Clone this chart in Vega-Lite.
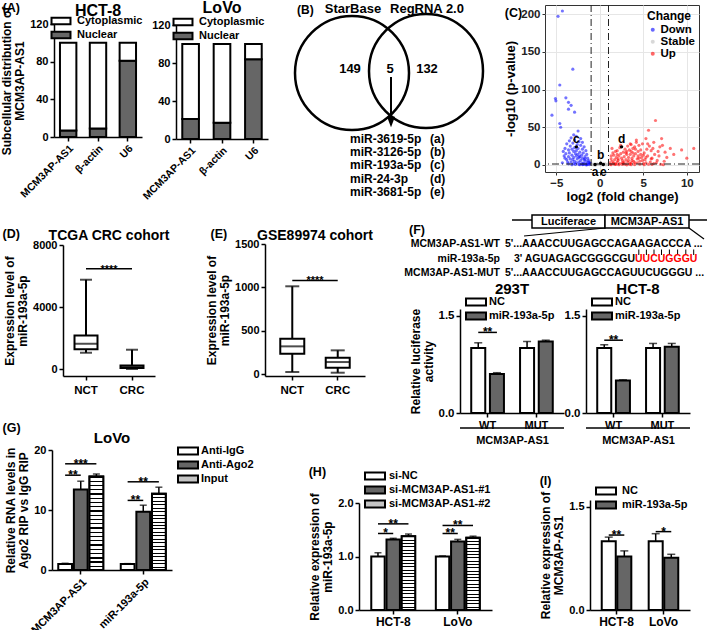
{
"$schema": "https://vega.github.io/schema/vega-lite/v6.json",
"background": "white",
"padding": 0,
"config": {
 "font": "Liberation Sans",
 "view": {"stroke": null},
 "axis": {"labelFont": "Liberation Sans", "labelFontWeight": "bold", "labelFontSize": 11, "labelColor": "black", "titleFont": "Liberation Sans", "titleFontWeight": "bold", "titleFontSize": 12, "titleColor": "black", "titleLineHeight": 13, "domainColor": "black", "domainWidth": 1.5, "tickColor": "black", "tickWidth": 1.5, "tickSize": 4, "grid": false, "labelPadding": 2, "titlePadding": 3},
 "title": {"font": "Liberation Sans", "fontWeight": "bold", "fontSize": 15, "color": "black"},
 "legend": {"labelFont": "Liberation Sans", "titleFont": "Liberation Sans", "labelColor": "black", "titleColor": "black"},
 "text": {"font": "Liberation Sans", "fontWeight": "bold", "color": "black"}
},
"datasets": {
 "volc": [
  {"x":-4.8,"y":197,"g":"Down"},{"x":-4.3,"y":204,"g":"Down"},{"x":-3.1,"y":127,"g":"Down"},{"x":-4.6,"y":106,"g":"Down"},{"x":-5.1,"y":88,"g":"Down"},{"x":-5.05,"y":85,"g":"Down"},{"x":-3.9,"y":89,"g":"Down"},{"x":-3.6,"y":83,"g":"Down"},{"x":-3.3,"y":79,"g":"Down"},{"x":-3.6,"y":74,"g":"Down"},{"x":-2.9,"y":70,"g":"Down"},{"x":-5.5,"y":66,"g":"Down"},{"x":-4.6,"y":55,"g":"Down"},{"x":-4.5,"y":50,"g":"Down"},
  {"x":-2.5,"y":45,"g":"Down"},{"x":-3.0,"y":40,"g":"Down"},{"x":-2.7,"y":38,"g":"Down"},{"x":-3.3,"y":36,"g":"Down"},{"x":-2.2,"y":35,"g":"Down"},{"x":-2.9,"y":33,"g":"Down"},{"x":-3.5,"y":32,"g":"Down"},{"x":-2.4,"y":31,"g":"Down"},{"x":-2.0,"y":30,"g":"Down"},{"x":-3.1,"y":29,"g":"Down"},{"x":-3.8,"y":28,"g":"Down"},{"x":-2.6,"y":27,"g":"Down"},{"x":-2.2,"y":26,"g":"Down"},{"x":-3.4,"y":25,"g":"Down"},{"x":-1.8,"y":24,"g":"Down"},{"x":-2.9,"y":23,"g":"Down"},{"x":-4.0,"y":22,"g":"Down"},{"x":-2.5,"y":22,"g":"Down"},{"x":-3.2,"y":21,"g":"Down"},{"x":-2.0,"y":21,"g":"Down"},{"x":-3.6,"y":20,"g":"Down"},{"x":-2.7,"y":19,"g":"Down"},{"x":-1.6,"y":19,"g":"Down"},{"x":-4.2,"y":18,"g":"Down"},{"x":-3.0,"y":18,"g":"Down"},{"x":-2.3,"y":17,"g":"Down"},{"x":-3.5,"y":16,"g":"Down"},{"x":-1.9,"y":16,"g":"Down"},{"x":-2.8,"y":15,"g":"Down"},{"x":-3.9,"y":15,"g":"Down"},{"x":-2.5,"y":14,"g":"Down"},{"x":-1.5,"y":14,"g":"Down"},{"x":-3.2,"y":13,"g":"Down"},{"x":-2.1,"y":13,"g":"Down"},{"x":-4.1,"y":12,"g":"Down"},{"x":-2.7,"y":12,"g":"Down"},{"x":-1.7,"y":11,"g":"Down"},{"x":-3.6,"y":11,"g":"Down"},{"x":-2.4,"y":10,"g":"Down"},{"x":-3.0,"y":10,"g":"Down"},{"x":-1.4,"y":9,"g":"Down"},{"x":-2.0,"y":9,"g":"Down"},{"x":-3.4,"y":8,"g":"Down"},{"x":-2.6,"y":8,"g":"Down"},{"x":-1.8,"y":7,"g":"Down"},{"x":-3.8,"y":7,"g":"Down"},{"x":-2.2,"y":6,"g":"Down"},{"x":-1.3,"y":6,"g":"Down"},{"x":-2.9,"y":5,"g":"Down"},{"x":-1.6,"y":5,"g":"Down"},{"x":-2.4,"y":4,"g":"Down"},{"x":-3.3,"y":4,"g":"Down"},{"x":-1.9,"y":3,"g":"Down"},{"x":-1.2,"y":3,"g":"Down"},{"x":-2.7,"y":3,"g":"Down"},{"x":-1.5,"y":2,"g":"Down"},{"x":-2.1,"y":2,"g":"Down"},{"x":-3.0,"y":2,"g":"Down"},{"x":-1.1,"y":1.5,"g":"Down"},{"x":-1.8,"y":1.5,"g":"Down"},{"x":-2.4,"y":1,"g":"Down"},{"x":-1.4,"y":1,"g":"Down"},{"x":-1.2,"y":0.5,"g":"Down"},{"x":-2.0,"y":0.5,"g":"Down"},{"x":-1.6,"y":0.3,"g":"Down"},{"x":-2.8,"y":0.8,"g":"Down"},{"x":-3.6,"y":1.5,"g":"Down"},{"x":-4.3,"y":3,"g":"Down"},{"x":-4.0,"y":9,"g":"Down"},{"x":-3.7,"y":4,"g":"Down"},{"x":-1.3,"y":4,"g":"Down"},{"x":-1.7,"y":8,"g":"Down"},{"x":-2.3,"y":11,"g":"Down"},{"x":-3.1,"y":7,"g":"Down"},{"x":-1.1,"y":2.5,"g":"Down"},{"x":-1.5,"y":0.2,"g":"Down"},{"x":-2.3,"y":0.3,"g":"Down"},{"x":-3.2,"y":0.4,"g":"Down"},{"x":-1.9,"y":0.6,"g":"Down"},
  {"x":-0.9,"y":0.5,"g":"Stable"},{"x":-0.6,"y":1,"g":"Stable"},{"x":-0.4,"y":0.3,"g":"Stable"},{"x":-0.2,"y":0.8,"g":"Stable"},{"x":0.1,"y":0.4,"g":"Stable"},{"x":0.3,"y":1.2,"g":"Stable"},{"x":0.5,"y":0.6,"g":"Stable"},{"x":0.7,"y":0.2,"g":"Stable"},{"x":0.9,"y":0.9,"g":"Stable"},{"x":-0.7,"y":0.2,"g":"Stable"},{"x":0.2,"y":0.1,"g":"Stable"},{"x":-0.3,"y":1.5,"g":"Stable"},{"x":0.6,"y":1.8,"g":"Stable"},{"x":-0.8,"y":1.1,"g":"Stable"},{"x":0.0,"y":0.7,"g":"Stable"},{"x":-0.5,"y":0.1,"g":"Stable"},{"x":0.8,"y":0.4,"g":"Stable"},
  {"x":6.4,"y":59,"g":"Up"},{"x":5.6,"y":46,"g":"Up"},{"x":10.8,"y":22,"g":"Up"},{"x":10.0,"y":9,"g":"Up"},{"x":9.4,"y":20,"g":"Up"},{"x":8.1,"y":22,"g":"Up"},{"x":7.1,"y":35,"g":"Up"},{"x":7.7,"y":10,"g":"Up"},{"x":6.9,"y":24,"g":"Up"},{"x":7.5,"y":17,"g":"Up"},{"x":8.5,"y":14,"g":"Up"},{"x":6.2,"y":30,"g":"Up"},{"x":5.3,"y":35,"g":"Up"},{"x":4.2,"y":33,"g":"Up"},{"x":3.5,"y":28,"g":"Up"},
  {"x":1.2,"y":1,"g":"Up"},{"x":1.5,"y":2,"g":"Up"},{"x":1.1,"y":3,"g":"Up"},{"x":1.8,"y":1.5,"g":"Up"},{"x":2.0,"y":4,"g":"Up"},{"x":1.4,"y":5,"g":"Up"},{"x":2.3,"y":2,"g":"Up"},{"x":1.7,"y":7,"g":"Up"},{"x":2.6,"y":3,"g":"Up"},{"x":1.3,"y":8,"g":"Up"},{"x":2.1,"y":6,"g":"Up"},{"x":2.9,"y":1,"g":"Up"},{"x":3.2,"y":4,"g":"Up"},{"x":2.5,"y":9,"g":"Up"},{"x":1.9,"y":10,"g":"Up"},{"x":3.0,"y":7,"g":"Up"},{"x":3.5,"y":2,"g":"Up"},{"x":2.2,"y":12,"g":"Up"},{"x":3.7,"y":6,"g":"Up"},{"x":1.6,"y":13,"g":"Up"},{"x":2.8,"y":11,"g":"Up"},{"x":4.0,"y":3,"g":"Up"},{"x":3.3,"y":10,"g":"Up"},{"x":2.4,"y":15,"g":"Up"},{"x":4.3,"y":8,"g":"Up"},{"x":3.9,"y":12,"g":"Up"},{"x":1.5,"y":16,"g":"Up"},{"x":3.1,"y":14,"g":"Up"},{"x":4.6,"y":5,"g":"Up"},{"x":2.7,"y":17,"g":"Up"},{"x":4.1,"y":15,"g":"Up"},{"x":3.6,"y":18,"g":"Up"},{"x":5.0,"y":2,"g":"Up"},{"x":4.8,"y":10,"g":"Up"},{"x":2.0,"y":19,"g":"Up"},{"x":3.4,"y":20,"g":"Up"},{"x":5.2,"y":7,"g":"Up"},{"x":4.4,"y":18,"g":"Up"},{"x":2.9,"y":21,"g":"Up"},{"x":5.5,"y":12,"g":"Up"},{"x":3.8,"y":22,"g":"Up"},{"x":4.7,"y":20,"g":"Up"},{"x":5.8,"y":4,"g":"Up"},{"x":4.0,"y":24,"g":"Up"},{"x":3.2,"y":25,"g":"Up"},{"x":5.1,"y":16,"g":"Up"},{"x":6.0,"y":9,"g":"Up"},{"x":4.5,"y":26,"g":"Up"},{"x":5.4,"y":21,"g":"Up"},{"x":6.3,"y":14,"g":"Up"},{"x":3.6,"y":27,"g":"Up"},{"x":5.7,"y":25,"g":"Up"},{"x":4.9,"y":28,"g":"Up"},{"x":6.6,"y":6,"g":"Up"},{"x":5.9,"y":19,"g":"Up"},{"x":6.8,"y":12,"g":"Up"},{"x":4.2,"y":30,"g":"Up"},{"x":3.0,"y":16,"g":"Up"},{"x":2.3,"y":23,"g":"Up"},{"x":1.8,"y":18,"g":"Up"},{"x":1.3,"y":12,"g":"Up"},{"x":2.6,"y":6,"g":"Up"},{"x":3.4,"y":1,"g":"Up"},{"x":4.6,"y":1,"g":"Up"},{"x":5.6,"y":1,"g":"Up"},{"x":6.2,"y":2,"g":"Up"},{"x":7.0,"y":1,"g":"Up"},{"x":7.4,"y":5,"g":"Up"},{"x":6.5,"y":3,"g":"Up"},{"x":3.9,"y":5,"g":"Up"},{"x":4.4,"y":12,"g":"Up"},{"x":5.3,"y":10,"g":"Up"},{"x":2.1,"y":8,"g":"Up"},{"x":1.6,"y":3,"g":"Up"},{"x":2.8,"y":4,"g":"Up"},{"x":3.5,"y":14,"g":"Up"},{"x":4.9,"y":6,"g":"Up"},{"x":5.9,"y":8,"g":"Up"},{"x":4.1,"y":21,"g":"Up"},{"x":3.1,"y":18,"g":"Up"},{"x":2.4,"y":26,"g":"Up"},{"x":4.7,"y":14,"g":"Up"},{"x":5.5,"y":28,"g":"Up"},{"x":6.1,"y":22,"g":"Up"},{"x":3.7,"y":9,"g":"Up"},{"x":2.0,"y":14,"g":"Up"},{"x":1.4,"y":22,"g":"Up"},{"x":3.3,"y":6,"g":"Up"},{"x":4.3,"y":3,"g":"Up"},{"x":5.0,"y":13,"g":"Up"},{"x":2.7,"y":2,"g":"Up"},{"x":1.9,"y":1,"g":"Up"},{"x":3.8,"y":16,"g":"Up"},{"x":6.7,"y":18,"g":"Up"},{"x":7.2,"y":26,"g":"Up"},{"x":5.3,"y":3,"g":"Up"},{"x":4.5,"y":9,"g":"Up"},{"x":3.6,"y":3,"g":"Up"},{"x":1.3,"y":0.3,"g":"Up"},{"x":2.2,"y":0.4,"g":"Up"},{"x":3.1,"y":0.2,"g":"Up"},{"x":4.0,"y":0.5,"g":"Up"},{"x":5.1,"y":0.3,"g":"Up"},{"x":6.0,"y":0.6,"g":"Up"},{"x":7.3,"y":0.4,"g":"Up"},{"x":1.7,"y":0.6,"g":"Up"},{"x":2.6,"y":0.8,"g":"Up"},{"x":3.6,"y":0.3,"g":"Up"}
 ],
 "volcLab": [
  {"x":-0.55,"y":0.6,"lab":"a"},{"x":0.1,"y":2.2,"lab":"b"},{"x":-2.7,"y":24,"lab":"c"},{"x":2.5,"y":24,"lab":"d"},{"x":0.4,"y":0.6,"lab":"e"}
 ]
},
"spacing": 0,
"bounds": "flush",
"resolve": {"scale": {"fill": "independent", "color": "independent", "xOffset": "independent"}, "legend": {"fill": "independent", "color": "independent"}},
"vconcat": [
 {"concat": [
  {"width": 52, "height": 22, "mark": "point", "data": {"values": []}},
  {"width": 1, "height": 1, "mark": "point", "data": {"values": []}},
  {"width": 1, "height": 1, "mark": "point", "data": {"values": []}},
  {"width": 88, "height": 113,
   "title": {"text": "HCT-8", "fontSize": 16, "offset": -17.5},
   "data": {"values": [
    {"gene":"MCM3AP-AS1","part":"Nuclear","v":7},{"gene":"MCM3AP-AS1","part":"Cytoplasmic","v":93},
    {"gene":"β-actin","part":"Nuclear","v":9},{"gene":"β-actin","part":"Cytoplasmic","v":91},
    {"gene":"U6","part":"Nuclear","v":81},{"gene":"U6","part":"Cytoplasmic","v":19}]},
   "layer": [
    {"mark": {"type":"bar","stroke":"black","strokeWidth":2},
     "encoding": {
      "x": {"field":"gene","type":"nominal","scale":{"domain":["MCM3AP-AS1","β-actin","U6"],"paddingInner":0.45,"paddingOuter":0.2},"axis":{"title":null,"labelAngle":-45,"labelFontSize":10.5}},
      "y": {"field":"v","type":"quantitative","stack":"zero","scale":{"domain":[0,120]},"axis":{"values":[0,40,80,120],"title":["Subcellular distribution of","MCM3AP-AS1"]}},
      "fill": {"field":"part","type":"nominal","scale":{"domain":["Cytoplasmic","Nuclear"],"range":["white","#666666"]},
       "legend":{"title":null,"orient":"none","legendX":1,"legendY":-9,"symbolType":"M-2,-0.7H2V0.7H-2Z","symbolSize":90,"symbolStrokeColor":"black","symbolStrokeWidth":2,"labelFontSize":11,"labelFontWeight":"bold","labelOffset":10,"rowPadding":-9.5,"padding":0}},
      "order": {"field":"part","sort":"descending"}}},
    {"mark": {"type":"point","opacity":0},
     "encoding": {"x": {"field":"gene","type":"nominal","axis":{"orient":"top","title":"(A)","labels":false,"ticks":false,"domain":false,"titleX":-52,"titleY":-9.5,"titleAlign":"left","titleBaseline":"bottom","titleAngle":0,"titleFontSize":12.5}}}}
   ],
   "resolve": {"axis": {"x": "independent"}}}
 ], "columns": 2, "spacing": 0, "bounds": "flush", "align": "each",
 "resolve": {"scale": {"fill": "independent", "color": "independent", "xOffset": "independent"}, "legend": {"fill": "independent", "color": "independent"}}},
 {"concat": [
  {"width": 174, "height": 23, "mark": "point", "data": {"values": []}},
  {"width": 1, "height": 1, "mark": "point", "data": {"values": []}},
  {"width": 1, "height": 1, "mark": "point", "data": {"values": []}},
  {"width": 92, "height": 114,
   "title": {"text": "LoVo", "fontSize": 16, "offset": 0},
   "data": {"values": [
    {"gene":"MCM3AP-AS1","part":"Nuclear","v":21},{"gene":"MCM3AP-AS1","part":"Cytoplasmic","v":79},
    {"gene":"β-actin","part":"Nuclear","v":17},{"gene":"β-actin","part":"Cytoplasmic","v":83},
    {"gene":"U6","part":"Nuclear","v":84},{"gene":"U6","part":"Cytoplasmic","v":16}]},
   "mark": {"type":"bar","stroke":"black","strokeWidth":2},
   "encoding": {
    "x": {"field":"gene","type":"nominal","scale":{"domain":["MCM3AP-AS1","β-actin","U6"],"paddingInner":0.47,"paddingOuter":0.2},"axis":{"title":null,"labelAngle":-45,"labelFontSize":10.5}},
    "y": {"field":"v","type":"quantitative","stack":"zero","scale":{"domain":[0,120]},"axis":{"values":[0,40,80,120],"title":null}},
    "fill": {"field":"part","type":"nominal","scale":{"domain":["Cytoplasmic","Nuclear"],"range":["white","#666666"]},
     "legend":{"title":null,"orient":"none","legendX":1,"legendY":-9,"symbolType":"M-2,-0.7H2V0.7H-2Z","symbolSize":90,"symbolStrokeColor":"black","symbolStrokeWidth":2,"labelFontSize":11,"labelFontWeight":"bold","labelOffset":10,"rowPadding":-9.5,"padding":0}},
    "order": {"field":"part","sort":"descending"}}}
 ], "columns": 2, "spacing": 0, "bounds": "flush", "align": "each",
 "resolve": {"scale": {"fill": "independent", "color": "independent", "xOffset": "independent"}, "legend": {"fill": "independent", "color": "independent"}}},
 {"concat": [
  {"width": 290, "height": 1, "mark": "point", "data": {"values": []}},
  {"width": 1, "height": 1, "mark": "point", "data": {"values": []}},
  {"width": 1, "height": 1, "mark": "point", "data": {"values": []}},
  {"width": 190, "height": 195,
   "layer": [
    {"data": {"values": [{"x":6.0,"y":7.0},{"x":13.4,"y":6.8}]},
     "mark": {"type":"point","shape":"circle","size":12996,"filled":false,"stroke":"black","strokeWidth":2.5,"opacity":1},
     "encoding": {"x": {"field":"x","type":"quantitative","scale":{"domain":[0,19],"nice":false,"zero":false},"axis":null},
                  "y": {"field":"y","type":"quantitative","scale":{"domain":[0,19.5],"nice":false,"zero":false,"reverse":true},"axis":null}}},
    {"data": {"values": [{"x":9.9,"y":7.4,"y2":11.3}]},
     "mark": {"type":"rule","strokeWidth":2,"color":"black"},
     "encoding": {"x": {"field":"x","type":"quantitative"},"y": {"field":"y","type":"quantitative"},"y2": {"field":"y2"}}},
    {"data": {"values": [{"x":9.9,"y":11.9}]},
     "mark": {"type":"point","shape":"M-1,-1.3L1,-1.3L0,1.3Z","size":64,"filled":true,"color":"black","opacity":1},
     "encoding": {"x": {"field":"x","type":"quantitative"},"y": {"field":"y","type":"quantitative"}}},
    {"data": {"values": [{"t":"StarBase","x":6.1,"y":0.6},{"t":"RegRNA 2.0","x":13.5,"y":0.6},{"t":"149","x":5.8,"y":6.6},{"t":"5","x":9.8,"y":6.6},{"t":"132","x":13.5,"y":6.6}]},
     "mark": {"type":"text","fontSize":13,"align":"center","baseline":"middle"},
     "encoding": {"x": {"field":"x","type":"quantitative"},"y": {"field":"y","type":"quantitative"},"text": {"field":"t"}}},
    {"data": {"values": [{"t":"(B)","x":0.5,"y":0.65},
      {"t":"miR-3619-5p","x":5.8,"y":13.6},{"t":"miR-3126-5p","x":5.8,"y":14.9},{"t":"miR-193a-5p","x":5.8,"y":16.2},{"t":"miR-24-3p","x":5.8,"y":17.6},{"t":"miR-3681-5p","x":5.8,"y":18.9},
      {"t":"(a)","x":13.8,"y":13.6},{"t":"(b)","x":13.8,"y":14.9},{"t":"(c)","x":13.8,"y":16.2},{"t":"(d)","x":13.8,"y":17.6},{"t":"(e)","x":13.8,"y":18.9}]},
     "mark": {"type":"text","fontSize":12,"align":"left","baseline":"middle"},
     "encoding": {"x": {"field":"x","type":"quantitative"},"y": {"field":"y","type":"quantitative"},"text": {"field":"t"}}}
   ]}
 ], "columns": 2, "spacing": 0, "bounds": "flush", "align": "each"},
 {"concat": [
  {"width": 543, "height": 3, "mark": "point", "data": {"values": []}},
  {"width": 1, "height": 1, "mark": "point", "data": {"values": []}},
  {"width": 1, "height": 1, "mark": "point", "data": {"values": []}},
  {"width": 154, "height": 167,
   "view": {"stroke": "#333333", "strokeWidth": 1},
   "title": {"text": "(C)", "anchor": "start", "frame": "bounds", "fontSize": 12.5, "offset": -15},
   "layer": [
    {"data": {"name": "volc"},
     "mark": {"type":"circle","size":10,"opacity":0.55},
     "encoding": {
      "x": {"field":"x","type":"quantitative","scale":{"domain":[-6.3,11.4],"nice":false,"zero":false},
            "axis":{"title":"log2 (fold change)","titleFontSize":13,"titlePadding":2,"values":[-5,-2.5,0,2.5,5,7.5,10],"labelExpr":"datum.value % 5 === 0 ? datum.label : ''","grid":true,"gridColor":"#e6e6e6","gridWidth":{"condition":{"test":"datum.value % 5 === 0","value":1},"value":0.5},"tickOpacity":{"condition":{"test":"datum.value % 5 === 0","value":1},"value":0},"tickColor":"#333333","tickSize":3,"tickWidth":1,"domain":false,"labelColor":"#222222","labelFontSize":11.5}},
      "y": {"field":"y","type":"quantitative","scale":{"domain":[-9.3,212],"nice":false,"zero":false},
            "axis":{"title":"-log10 (p-value)","titleFontSize":13,"values":[0,25,50,75,100,125,150,175,200],"labelExpr":"datum.value % 50 === 0 ? datum.label : ''","grid":true,"gridColor":"#e6e6e6","gridWidth":{"condition":{"test":"datum.value % 50 === 0","value":1},"value":0.5},"tickOpacity":{"condition":{"test":"datum.value % 50 === 0","value":1},"value":0},"tickColor":"#333333","tickSize":3,"tickWidth":1,"domain":false,"labelColor":"#222222","labelFontSize":11.5}},
      "color": {"field":"g","type":"nominal","scale":{"domain":["Down","Stable","Up"],"range":["#0000ff","#bebebe","#ff0000"]},
       "legend":{"title":"Change","orient":"none","legendX":102,"legendY":6,"symbolType":"circle","symbolSize":16,"symbolOpacity":0.6,"titleFontSize":12,"titleFontWeight":"bold","labelFontSize":11.5,"labelFontWeight":"bold","rowPadding":-1,"padding":0,"labelOffset":2,"titlePadding":1}}}},
    {"data": {"values": [{"x":-1},{"x":1}]},
     "mark": {"type":"rule","strokeDash":[7,3,1,3],"strokeWidth":1,"color":"#222222"},
     "encoding": {"x": {"field":"x","type":"quantitative","title":"log2 (fold change)"}}},
    {"data": {"values": [{"y":1.3}]},
     "mark": {"type":"rule","strokeDash":[7,3,1,3],"strokeWidth":1,"color":"#222222"},
     "encoding": {"y": {"field":"y","type":"quantitative","title":"-log10 (p-value)"}}},
    {"data": {"name": "volcLab"},
     "mark": {"type":"circle","size":12,"color":"black","opacity":1},
     "encoding": {"x": {"field":"x","type":"quantitative","title":"log2 (fold change)"},"y": {"field":"y","type":"quantitative","title":"-log10 (p-value)"}}},
    {"data": {"name": "volcLab"},
     "transform": [{"filter": "datum.lab !== 'a' && datum.lab !== 'e'"}],
     "mark": {"type":"text","baseline":"bottom","dy":-1,"fontSize":12},
     "encoding": {"x": {"field":"x","type":"quantitative","title":"log2 (fold change)"},"y": {"field":"y","type":"quantitative","title":"-log10 (p-value)"},"text": {"field":"lab"}}},
    {"data": {"name": "volcLab"},
     "transform": [{"filter": "datum.lab === 'a' || datum.lab === 'e'"}],
     "mark": {"type":"text","baseline":"top","dy":2,"fontSize":12},
     "encoding": {"x": {"field":"x","type":"quantitative","title":"log2 (fold change)"},"y": {"field":"y","type":"quantitative","title":"-log10 (p-value)"},"text": {"field":"lab"}}}
   ]}
 ], "columns": 2, "spacing": 0, "bounds": "flush", "align": "each",
 "resolve": {"scale": {"fill": "independent", "color": "independent", "xOffset": "independent"}, "legend": {"fill": "independent", "color": "independent"}}},
 {"concat": [
  {"width": 61, "height": 243, "mark": "point", "data": {"values": []}},
  {"width": 1, "height": 1, "mark": "point", "data": {"values": []}},
  {"width": 1, "height": 1, "mark": "point", "data": {"values": []}},
  {"width": 92, "height": 131,
   "title": {"text": "TCGA CRC cohort", "fontSize": 14, "offset": -15},
   "data": {"values": [{"g":"NCT","lo":1050,"q1":1270,"med":1630,"q3":2170,"hi":5760},{"g":"CRC","lo":0,"q1":60,"med":130,"q3":220,"hi":1245}]},
   "layer": [
    {"mark": {"type":"rule","strokeWidth":2,"color":"black"},
     "encoding": {"x": {"field":"g","type":"nominal","scale":{"domain":["NCT","CRC"],"paddingInner":0.5,"paddingOuter":0.25},"axis":{"title":null,"labelAngle":0,"labelPadding":4,"labelFontSize":11.5}},
                  "y": {"field":"lo","type":"quantitative","scale":{"domain":[-450,8000],"nice":false,"zero":false},"axis":{"values":[0,2000,4000,6000,8000],"format":"d","title":["Expression level of","miR-193a-5p"]}},
                  "y2": {"field":"hi"}}},
    {"mark": {"type":"bar","fill":"white","stroke":"black","strokeWidth":2,"width":23},
     "encoding": {"x": {"field":"g","type":"nominal","axis":null},"y": {"field":"q1","type":"quantitative"},"y2": {"field":"q3"}}},
    {"mark": {"type":"tick","color":"black","thickness":2,"size":23},
     "encoding": {"x": {"field":"g","type":"nominal","axis":null},"y": {"field":"med","type":"quantitative"}}},
    {"mark": {"type":"tick","color":"black","thickness":2,"size":12},
     "encoding": {"x": {"field":"g","type":"nominal","axis":null},"y": {"field":"lo","type":"quantitative"}}},
    {"mark": {"type":"tick","color":"black","thickness":2,"size":12},
     "encoding": {"x": {"field":"g","type":"nominal","axis":null},"y": {"field":"hi","type":"quantitative"}}},
    {"data": {"values": [{"y":6470}]},
     "mark": {"type":"rule","strokeWidth":1.5,"color":"black"},
     "encoding": {"x": {"datum":"NCT","axis":null},"x2": {"datum":"CRC"},"y": {"field":"y","type":"quantitative"}}},
    {"data": {"values": [{"y":6470,"s":"****"}]},
     "mark": {"type":"text","baseline":"alphabetic","dy":4,"fontSize":11},
     "encoding": {"y": {"field":"y","type":"quantitative"},"text": {"field":"s"}}},
    {"mark": {"type":"point","opacity":0},
     "encoding": {"x": {"field":"g","type":"nominal","axis":{"orient":"top","title":"(D)","labels":false,"ticks":false,"domain":false,"titleX":-61,"titleY":-4.5,"titleAlign":"left","titleBaseline":"bottom","titleAngle":0,"titleFontSize":12.5}}}}
   ],
   "resolve": {"axis": {"x": "independent"}}}
 ], "columns": 2, "spacing": 0, "bounds": "flush", "align": "each"},
 {"concat": [
  {"width": 263, "height": 242, "mark": "point", "data": {"values": []}},
  {"width": 1, "height": 1, "mark": "point", "data": {"values": []}},
  {"width": 1, "height": 1, "mark": "point", "data": {"values": []}},
  {"width": 100, "height": 132,
   "title": {"text": "GSE89974 cohort", "fontSize": 14, "offset": -15},
   "data": {"values": [{"g":"NCT","lo":23,"q1":234,"med":319,"q3":407,"hi":1012},{"g":"CRC","lo":15,"q1":73,"med":138,"q3":188,"hi":273}]},
   "layer": [
    {"mark": {"type":"rule","strokeWidth":2,"color":"black"},
     "encoding": {"x": {"field":"g","type":"nominal","scale":{"domain":["NCT","CRC"],"paddingInner":0.5,"paddingOuter":0.35},"axis":{"title":null,"labelAngle":0,"labelPadding":4,"labelFontSize":11.5}},
                  "y": {"field":"lo","type":"quantitative","scale":{"domain":[-23,1500],"nice":false,"zero":false},"axis":{"values":[0,500,1000,1500],"format":"d","title":["Expression level of","miR-193a-5p"]}},
                  "y2": {"field":"hi"}}},
    {"mark": {"type":"bar","fill":"white","stroke":"black","strokeWidth":2,"width":24},
     "encoding": {"x": {"field":"g","type":"nominal","axis":null},"y": {"field":"q1","type":"quantitative"},"y2": {"field":"q3"}}},
    {"mark": {"type":"tick","color":"black","thickness":2,"size":24},
     "encoding": {"x": {"field":"g","type":"nominal","axis":null},"y": {"field":"med","type":"quantitative"}}},
    {"mark": {"type":"tick","color":"black","thickness":2,"size":14},
     "encoding": {"x": {"field":"g","type":"nominal","axis":null},"y": {"field":"lo","type":"quantitative"}}},
    {"mark": {"type":"tick","color":"black","thickness":2,"size":14},
     "encoding": {"x": {"field":"g","type":"nominal","axis":null},"y": {"field":"hi","type":"quantitative"}}},
    {"data": {"values": [{"y":1080}]},
     "mark": {"type":"rule","strokeWidth":1.5,"color":"black"},
     "encoding": {"x": {"datum":"NCT","axis":null},"x2": {"datum":"CRC"},"y": {"field":"y","type":"quantitative"}}},
    {"data": {"values": [{"y":1080,"s":"****"}]},
     "mark": {"type":"text","baseline":"alphabetic","dy":4,"fontSize":11},
     "encoding": {"y": {"field":"y","type":"quantitative"},"text": {"field":"s"}}},
    {"mark": {"type":"point","opacity":0},
     "encoding": {"x": {"field":"g","type":"nominal","axis":{"orient":"top","title":"(E)","labels":false,"ticks":false,"domain":false,"titleX":-55,"titleY":-3.5,"titleAlign":"left","titleBaseline":"bottom","titleAngle":0,"titleFontSize":12.5}}}}
   ],
   "resolve": {"axis": {"x": "independent"}}}
 ], "columns": 2, "spacing": 0, "bounds": "flush", "align": "each"},
 {"concat": [
  {"width": 400, "height": 208, "mark": "point", "data": {"values": []}},
  {"width": 1, "height": 1, "mark": "point", "data": {"values": []}},
  {"width": 1, "height": 1, "mark": "point", "data": {"values": []}},
  {"width": 309, "height": 70,
   "layer": [
    {"data": {"values": [{"x":11.0,"x2":30.5,"y":1.0}]},
     "mark": {"type":"rule","strokeWidth":1.5,"color":"black"},
     "encoding": {"x": {"field":"x","type":"quantitative","scale":{"domain":[0,30.9],"nice":false,"zero":false},"axis":null},
                  "x2": {"field":"x2"},
                  "y": {"field":"y","type":"quantitative","scale":{"domain":[0,7],"nice":false,"zero":false,"reverse":true},"axis":null}}},
    {"data": {"values": [{"x":20.3,"y":1.8,"x2":12.2,"y2":2.6},{"x":28.7,"y":1.8,"x2":30.2,"y2":2.9}]},
     "mark": {"type":"rule","strokeWidth":1.2,"color":"black"},
     "encoding": {"x": {"field":"x","type":"quantitative"},"x2": {"field":"x2"},"y": {"field":"y","type":"quantitative"},"y2": {"field":"y2"}}},
    {"data": {"values": [{"x":13.0,"x2":20.3,"y":0.5,"y2":1.8},{"x":20.3,"x2":28.7,"y":0.5,"y2":1.8}]},
     "mark": {"type":"rect","fill":"white","stroke":"black","strokeWidth":1.5},
     "encoding": {"x": {"field":"x","type":"quantitative"},"x2": {"field":"x2"},"y": {"field":"y","type":"quantitative"},"y2": {"field":"y2"}}},
    {"data": {"values": [{"x":23.68},{"x":24.44},{"x":25.20},{"x":25.95},{"x":26.74},{"x":27.56},{"x":28.38},{"x":29.17}]},
     "mark": {"type":"rule","strokeWidth":1,"color":"black"},
     "encoding": {"x": {"field":"x","type":"quantitative"},"y": {"datum":3.95},"y2": {"datum":4.5}}},
    {"data": {"values": [{"t":"Luciferace","x":16.65,"y":1.15},{"t":"MCM3AP-AS1","x":24.5,"y":1.15}]},
     "mark": {"type":"text","fontSize":11,"align":"center","baseline":"middle"},
     "encoding": {"x": {"field":"x","type":"quantitative"},"y": {"field":"y","type":"quantitative"},"text": {"field":"t"}}},
    {"data": {"values": [{"t":"MCM3AP-AS1-WT","x":9.8,"y":3.4},{"t":"miR-193a-5p","x":9.8,"y":4.9},{"t":"MCM3AP-AS1-MUT","x":9.8,"y":6.3},{"t":"AGUAGAGCGGGCGU","x":23.3,"y":4.9}]},
     "mark": {"type":"text","fontSize":10.5,"align":"right","baseline":"middle"},
     "encoding": {"x": {"field":"x","type":"quantitative"},"y": {"field":"y","type":"quantitative"},"text": {"field":"t"}}},
    {"data": {"values": [{"t":"5'...AAACCUUGAGCCAGAAGACCCA ...","x":10.3,"y":3.4},{"t":"3'","x":11.2,"y":4.9},{"t":"5'...AAACCUUGAGCCAGUUCUGGGU ...","x":10.3,"y":6.3}]},
     "mark": {"type":"text","fontSize":10.5,"align":"left","baseline":"middle"},
     "encoding": {"x": {"field":"x","type":"quantitative"},"y": {"field":"y","type":"quantitative"},"text": {"field":"t"}}},
    {"data": {"values": [{"t":"(F)","x":0.7,"y":2.0}]},
     "mark": {"type":"text","fontSize":12.5,"align":"left","baseline":"middle"},
     "encoding": {"x": {"field":"x","type":"quantitative"},"y": {"field":"y","type":"quantitative"},"text": {"field":"t"}}},
    {"data": {"values": [{"t":"UUCUGGGU","x":23.3,"y":4.9}]},
     "mark": {"type":"text","fontSize":10.5,"align":"left","baseline":"middle","color":"#ff0000"},
     "encoding": {"x": {"field":"x","type":"quantitative"},"y": {"field":"y","type":"quantitative"},"text": {"field":"t"}}}
   ]}
 ], "columns": 2, "spacing": 0, "bounds": "flush", "align": "each"},
 {"concat": [
  {"width": 458, "height": 307, "mark": "point", "data": {"values": []}},
  {"width": 1, "height": 1, "mark": "point", "data": {"values": []}},
  {"width": 1, "height": 1, "mark": "point", "data": {"values": []}},
  {"width": 104, "height": 104,
   "title": {"text": "293T", "fontSize": 15, "offset": -0.5},
   "data": {"values": [{"c":"WT","t":"NC","v":1.0,"hi":1.08},{"c":"WT","t":"miR-193a-5p","v":0.6,"hi":0.62},{"c":"MUT","t":"NC","v":1.0,"hi":1.1},{"c":"MUT","t":"miR-193a-5p","v":1.1,"hi":1.12}]},
   "layer": [
    {"mark": {"type":"bar","stroke":"black","strokeWidth":2},
     "encoding": {
      "x": {"field":"c","type":"nominal","scale":{"domain":["WT","MUT"],"paddingInner":0.33,"paddingOuter":0.23},"axis":{"title":"MCM3AP-AS1","labelAngle":0,"labelFontSize":11,"titleFontSize":11,"titlePadding":4}},
      "xOffset": {"field":"t","type":"nominal","scale":{"domain":["NC","miR-193a-5p"],"paddingInner":0.25}},
      "y": {"field":"v","type":"quantitative","scale":{"domain":[0,1.5]},"axis":{"values":[0,0.5,1,1.5],"format":".1f","title":["Relative luciferase","activity"],"labelFontSize":11.5}},
      "fill": {"field":"t","type":"nominal","scale":{"domain":["NC","miR-193a-5p"],"range":["white","#666666"]},
       "legend":{"title":null,"orient":"none","legendX":10,"legendY":-13,"symbolType":"M-2,-0.7H2V0.7H-2Z","symbolSize":100,"symbolStrokeColor":"black","symbolStrokeWidth":2,"labelFontSize":11,"labelFontWeight":"bold","labelOffset":7,"rowPadding":-10,"padding":0}}}},
    {"mark": {"type":"rule","strokeWidth":1.5,"color":"black"},
     "encoding": {"x": {"field":"c","type":"nominal"},"xOffset": {"field":"t","type":"nominal"},"y": {"field":"v","type":"quantitative"},"y2": {"field":"hi"}}},
    {"mark": {"type":"tick","thickness":1.5,"size":8,"color":"black"},
     "encoding": {"x": {"field":"c","type":"nominal"},"xOffset": {"field":"t","type":"nominal"},"y": {"field":"hi","type":"quantitative"}}},
    {"data": {"values": [{"c":"WT","t":"NC","y":1.24},{"c":"WT","t":"miR-193a-5p","y":1.24}]},
     "mark": {"type":"line","color":"black","strokeWidth":1.5},
     "encoding": {"x": {"field":"c","type":"nominal"},"xOffset": {"field":"t","type":"nominal"},"y": {"field":"y","type":"quantitative"}}},
    {"data": {"values": [{"c":"WT","y":1.24,"s":"**"}]},
     "mark": {"type":"text","baseline":"alphabetic","dy":4,"fontSize":12},
     "encoding": {"x": {"field":"c","type":"nominal"},"y": {"field":"y","type":"quantitative"},"text": {"field":"s"}}},
    {"data": {"values": [{"u":1}]},
     "mark": {"type":"rule","strokeWidth":1.5,"color":"black"},
     "encoding": {"y": {"datum": -0.23}}}
   ]}
 ], "columns": 2, "spacing": 0, "bounds": "flush", "align": "each",
 "resolve": {"scale": {"fill": "independent", "color": "independent", "xOffset": "independent"}, "legend": {"fill": "independent", "color": "independent"}}},
 {"concat": [
  {"width": 584, "height": 307, "mark": "point", "data": {"values": []}},
  {"width": 1, "height": 1, "mark": "point", "data": {"values": []}},
  {"width": 1, "height": 1, "mark": "point", "data": {"values": []}},
  {"width": 104, "height": 104,
   "title": {"text": "HCT-8", "fontSize": 15, "offset": -0.5},
   "data": {"values": [{"c":"WT","t":"NC","v":1.0,"hi":1.05},{"c":"WT","t":"miR-193a-5p","v":0.5,"hi":0.51},{"c":"MUT","t":"NC","v":1.0,"hi":1.07},{"c":"MUT","t":"miR-193a-5p","v":1.02,"hi":1.07}]},
   "layer": [
    {"mark": {"type":"bar","stroke":"black","strokeWidth":2},
     "encoding": {
      "x": {"field":"c","type":"nominal","scale":{"domain":["WT","MUT"],"paddingInner":0.33,"paddingOuter":0.23},"axis":{"title":"MCM3AP-AS1","labelAngle":0,"labelFontSize":11,"titleFontSize":11,"titlePadding":4}},
      "xOffset": {"field":"t","type":"nominal","scale":{"domain":["NC","miR-193a-5p"],"paddingInner":0.25}},
      "y": {"field":"v","type":"quantitative","scale":{"domain":[0,1.5]},"axis":{"values":[0,0.5,1,1.5],"format":".1f","title":null,"labelFontSize":11.5}},
      "fill": {"field":"t","type":"nominal","scale":{"domain":["NC","miR-193a-5p"],"range":["white","#666666"]},
       "legend":{"title":null,"orient":"none","legendX":10,"legendY":-13,"symbolType":"M-2,-0.7H2V0.7H-2Z","symbolSize":100,"symbolStrokeColor":"black","symbolStrokeWidth":2,"labelFontSize":11,"labelFontWeight":"bold","labelOffset":7,"rowPadding":-10,"padding":0}}}},
    {"mark": {"type":"rule","strokeWidth":1.5,"color":"black"},
     "encoding": {"x": {"field":"c","type":"nominal"},"xOffset": {"field":"t","type":"nominal"},"y": {"field":"v","type":"quantitative"},"y2": {"field":"hi"}}},
    {"mark": {"type":"tick","thickness":1.5,"size":8,"color":"black"},
     "encoding": {"x": {"field":"c","type":"nominal"},"xOffset": {"field":"t","type":"nominal"},"y": {"field":"hi","type":"quantitative"}}},
    {"data": {"values": [{"c":"WT","t":"NC","y":1.12},{"c":"WT","t":"miR-193a-5p","y":1.12}]},
     "mark": {"type":"line","color":"black","strokeWidth":1.5},
     "encoding": {"x": {"field":"c","type":"nominal"},"xOffset": {"field":"t","type":"nominal"},"y": {"field":"y","type":"quantitative"}}},
    {"data": {"values": [{"c":"WT","y":1.12,"s":"**"}]},
     "mark": {"type":"text","baseline":"alphabetic","dy":4,"fontSize":12},
     "encoding": {"x": {"field":"c","type":"nominal"},"y": {"field":"y","type":"quantitative"},"text": {"field":"s"}}},
    {"data": {"values": [{"u":1}]},
     "mark": {"type":"rule","strokeWidth":1.5,"color":"black"},
     "encoding": {"y": {"datum": -0.23}}}
   ]}
 ], "columns": 2, "spacing": 0, "bounds": "flush", "align": "each",
 "resolve": {"scale": {"fill": "independent", "color": "independent", "xOffset": "independent"}, "legend": {"fill": "independent", "color": "independent"}}},
 {"concat": [
  {"width": 50, "height": 448, "mark": "point", "data": {"values": []}},
  {"width": 1, "height": 1, "mark": "point", "data": {"values": []}},
  {"width": 1, "height": 1, "mark": "point", "data": {"values": []}},
  {"width": 120, "height": 120,
   "title": {"text": "LoVo", "fontSize": 15, "offset": -24.5},
   "data": {"values": [
    {"c":"MCM3AP-AS1","t":"Anti-IgG","v":1.0,"hi":1.12},{"c":"MCM3AP-AS1","t":"Anti-Ago2","v":13.4,"hi":14.8},{"c":"MCM3AP-AS1","t":"Input","v":15.6,"hi":16.0},
    {"c":"miR-193a-5p","t":"Anti-IgG","v":1.0,"hi":1.06},{"c":"miR-193a-5p","t":"Anti-Ago2","v":9.7,"hi":10.8},{"c":"miR-193a-5p","t":"Input","v":12.7,"hi":13.8}]},
   "layer": [
    {"mark": {"type":"bar","stroke":"black","strokeWidth":2},
     "encoding": {
      "x": {"field":"c","type":"nominal","scale":{"domain":["MCM3AP-AS1","miR-193a-5p"],"paddingInner":0.28,"paddingOuter":0.1},"axis":{"title":null,"labelAngle":-45,"labelFontSize":11}},
      "xOffset": {"field":"t","type":"nominal","scale":{"domain":["Anti-IgG","Anti-Ago2","Input"],"paddingInner":0.12}},
      "y": {"field":"v","type":"quantitative","scale":{"domain":[0,20]},"axis":{"values":[0,5,10,15,20],"title":["Relative RNA levels in","Ago2 RIP vs IgG RIP"]}},
      "fill": {"field":"t","type":"nominal","scale":{"domain":["Anti-IgG","Anti-Ago2","Input"],"range":["white","#666666","#c4c4c4"]},
       "legend":{"title":null,"orient":"none","legendX":130,"legendY":-5,"symbolType":"M-2,-0.7H2V0.7H-2Z","symbolSize":100,"symbolStrokeColor":"black","symbolStrokeWidth":2,"labelFontSize":11,"labelFontWeight":"bold","labelOffset":7,"rowPadding":-6.5,"padding":0}}}},
    {"transform": [{"filter": "datum.t === 'Input'"}],
     "mark": {"type":"bar","stroke":"black","strokeWidth":2,"fill":{"gradient":"linear","x1":0,"y1":0,"x2":0,"y2":1,"stops":[
      {"offset":0,"color":"black"},{"offset":0.0136,"color":"black"},{"offset":0.0136,"color":"white"},{"offset":0.0455,"color":"white"},
      {"offset":0.0455,"color":"black"},{"offset":0.0591,"color":"black"},{"offset":0.0591,"color":"white"},{"offset":0.0909,"color":"white"},
      {"offset":0.0909,"color":"black"},{"offset":0.1045,"color":"black"},{"offset":0.1045,"color":"white"},{"offset":0.1364,"color":"white"},
      {"offset":0.1364,"color":"black"},{"offset":0.15,"color":"black"},{"offset":0.15,"color":"white"},{"offset":0.1818,"color":"white"},
      {"offset":0.1818,"color":"black"},{"offset":0.1955,"color":"black"},{"offset":0.1955,"color":"white"},{"offset":0.2273,"color":"white"},
      {"offset":0.2273,"color":"black"},{"offset":0.2409,"color":"black"},{"offset":0.2409,"color":"white"},{"offset":0.2727,"color":"white"},
      {"offset":0.2727,"color":"black"},{"offset":0.2864,"color":"black"},{"offset":0.2864,"color":"white"},{"offset":0.3182,"color":"white"},
      {"offset":0.3182,"color":"black"},{"offset":0.3318,"color":"black"},{"offset":0.3318,"color":"white"},{"offset":0.3636,"color":"white"},
      {"offset":0.3636,"color":"black"},{"offset":0.3773,"color":"black"},{"offset":0.3773,"color":"white"},{"offset":0.4091,"color":"white"},
      {"offset":0.4091,"color":"black"},{"offset":0.4227,"color":"black"},{"offset":0.4227,"color":"white"},{"offset":0.4545,"color":"white"},
      {"offset":0.4545,"color":"black"},{"offset":0.4682,"color":"black"},{"offset":0.4682,"color":"white"},{"offset":0.5,"color":"white"},
      {"offset":0.5,"color":"black"},{"offset":0.5136,"color":"black"},{"offset":0.5136,"color":"white"},{"offset":0.5455,"color":"white"},
      {"offset":0.5455,"color":"black"},{"offset":0.5591,"color":"black"},{"offset":0.5591,"color":"white"},{"offset":0.5909,"color":"white"},
      {"offset":0.5909,"color":"black"},{"offset":0.6045,"color":"black"},{"offset":0.6045,"color":"white"},{"offset":0.6364,"color":"white"},
      {"offset":0.6364,"color":"black"},{"offset":0.65,"color":"black"},{"offset":0.65,"color":"white"},{"offset":0.6818,"color":"white"},
      {"offset":0.6818,"color":"black"},{"offset":0.6955,"color":"black"},{"offset":0.6955,"color":"white"},{"offset":0.7273,"color":"white"},
      {"offset":0.7273,"color":"black"},{"offset":0.7409,"color":"black"},{"offset":0.7409,"color":"white"},{"offset":0.7727,"color":"white"},
      {"offset":0.7727,"color":"black"},{"offset":0.7864,"color":"black"},{"offset":0.7864,"color":"white"},{"offset":0.8182,"color":"white"},
      {"offset":0.8182,"color":"black"},{"offset":0.8318,"color":"black"},{"offset":0.8318,"color":"white"},{"offset":0.8636,"color":"white"},
      {"offset":0.8636,"color":"black"},{"offset":0.8773,"color":"black"},{"offset":0.8773,"color":"white"},{"offset":0.9091,"color":"white"},
      {"offset":0.9091,"color":"black"},{"offset":0.9227,"color":"black"},{"offset":0.9227,"color":"white"},{"offset":0.9545,"color":"white"},
      {"offset":0.9545,"color":"black"},{"offset":0.9682,"color":"black"},{"offset":0.9682,"color":"white"},{"offset":1,"color":"white"}]}},
     "encoding": {"x": {"field":"c","type":"nominal","axis":null},"xOffset": {"field":"t","type":"nominal"},"y": {"field":"v","type":"quantitative"}}},
    {"mark": {"type":"rule","strokeWidth":1.5,"color":"black"},
     "encoding": {"x": {"field":"c","type":"nominal","axis":null},"xOffset": {"field":"t","type":"nominal"},"y": {"field":"v","type":"quantitative"},"y2": {"field":"hi"}}},
    {"mark": {"type":"tick","thickness":1.5,"size":7,"color":"black"},
     "encoding": {"x": {"field":"c","type":"nominal","axis":null},"xOffset": {"field":"t","type":"nominal"},"y": {"field":"hi","type":"quantitative"}}},
    {"data": {"values": [
      {"c":"MCM3AP-AS1","t":"Anti-IgG","y":15.8,"k":"a"},{"c":"MCM3AP-AS1","t":"Anti-Ago2","y":15.8,"k":"a"},
      {"c":"MCM3AP-AS1","t":"Anti-IgG","y":17.7,"k":"b"},{"c":"MCM3AP-AS1","t":"Input","y":17.7,"k":"b"},
      {"c":"miR-193a-5p","t":"Anti-IgG","y":11.6,"k":"c"},{"c":"miR-193a-5p","t":"Anti-Ago2","y":11.6,"k":"c"},
      {"c":"miR-193a-5p","t":"Anti-IgG","y":14.7,"k":"d"},{"c":"miR-193a-5p","t":"Input","y":14.7,"k":"d"}]},
     "mark": {"type":"line","color":"black","strokeWidth":1.5},
     "encoding": {"x": {"field":"c","type":"nominal","axis":null},"xOffset": {"field":"t","type":"nominal"},"y": {"field":"y","type":"quantitative"},"detail": {"field":"k"}}},
    {"data": {"values": [{"c":"MCM3AP-AS1","t":"Anti-IgG","y":15.8,"s":"**"},{"c":"miR-193a-5p","t":"Anti-IgG","y":11.6,"s":"**"}]},
     "mark": {"type":"text","baseline":"alphabetic","dy":4,"dx":7.8,"fontSize":12},
     "encoding": {"x": {"field":"c","type":"nominal","axis":null},"xOffset": {"field":"t","type":"nominal"},"y": {"field":"y","type":"quantitative"},"text": {"field":"s"}}},
    {"data": {"values": [{"c":"MCM3AP-AS1","t":"Anti-Ago2","y":17.7,"s":"***"},{"c":"miR-193a-5p","t":"Anti-Ago2","y":14.7,"s":"**"}]},
     "mark": {"type":"text","baseline":"alphabetic","dy":4,"fontSize":12},
     "encoding": {"x": {"field":"c","type":"nominal","axis":null},"xOffset": {"field":"t","type":"nominal"},"y": {"field":"y","type":"quantitative"},"text": {"field":"s"}}},
    {"mark": {"type":"point","opacity":0},
     "encoding": {"x": {"field":"c","type":"nominal","axis":{"orient":"top","title":"(G)","labels":false,"ticks":false,"domain":false,"titleX":-50,"titleY":-16,"titleAlign":"left","titleBaseline":"bottom","titleAngle":0,"titleFontSize":12.5}}}}
   ],
   "resolve": {"axis": {"x": "independent"}}}
 ], "columns": 2, "spacing": 0, "bounds": "flush", "align": "each",
 "resolve": {"scale": {"fill": "independent", "color": "independent", "xOffset": "independent"}, "legend": {"fill": "independent", "color": "independent"}}},
 {"concat": [
  {"width": 357, "height": 501, "mark": "point", "data": {"values": []}},
  {"width": 1, "height": 1, "mark": "point", "data": {"values": []}},
  {"width": 1, "height": 1, "mark": "point", "data": {"values": []}},
  {"width": 133, "height": 107,
   "title": {"text": "(H)", "anchor": "start", "frame": "bounds", "fontSize": 12.5, "offset": -8.5},
   "data": {"values": [
    {"c":"HCT-8","t":"si-NC","v":1.0,"hi":1.07},{"c":"HCT-8","t":"si-MCM3AP-AS1-#1","v":1.32,"hi":1.34},{"c":"HCT-8","t":"si-MCM3AP-AS1-#2","v":1.38,"hi":1.42},
    {"c":"LoVo","t":"si-NC","v":1.0,"hi":1.01},{"c":"LoVo","t":"si-MCM3AP-AS1-#1","v":1.28,"hi":1.32},{"c":"LoVo","t":"si-MCM3AP-AS1-#2","v":1.35,"hi":1.38}]},
   "layer": [
    {"mark": {"type":"bar","stroke":"black","strokeWidth":2},
     "encoding": {
      "x": {"field":"c","type":"nominal","scale":{"domain":["HCT-8","LoVo"],"paddingInner":0.32,"paddingOuter":0.19},"axis":{"title":null,"labelAngle":0,"labelFontSize":12}},
      "xOffset": {"field":"t","type":"nominal","scale":{"domain":["si-NC","si-MCM3AP-AS1-#1","si-MCM3AP-AS1-#2"],"paddingInner":0.12}},
      "y": {"field":"v","type":"quantitative","scale":{"domain":[0,2]},"axis":{"values":[0,0.5,1,1.5,2],"format":".1f","title":["Relative expression of","miR-193a-5p"]}},
      "fill": {"field":"t","type":"nominal","scale":{"domain":["si-NC","si-MCM3AP-AS1-#1","si-MCM3AP-AS1-#2"],"range":["white","#666666","#c4c4c4"]},
       "legend":{"title":null,"orient":"none","legendX":10,"legendY":-33,"symbolType":"M-2,-0.7H2V0.7H-2Z","symbolSize":100,"symbolStrokeColor":"black","symbolStrokeWidth":2,"labelFontSize":11,"labelFontWeight":"bold","labelOffset":8,"rowPadding":-7.5,"padding":0}}}},
    {"transform": [{"filter": "datum.t === 'si-MCM3AP-AS1-#2'"}],
     "mark": {"type":"bar","stroke":"black","strokeWidth":2,"fill":{"gradient":"linear","x1":0,"y1":0,"x2":0,"y2":1,"stops":[
      {"offset":0,"color":"black"},{"offset":0.0136,"color":"black"},{"offset":0.0136,"color":"white"},{"offset":0.0455,"color":"white"},
      {"offset":0.0455,"color":"black"},{"offset":0.0591,"color":"black"},{"offset":0.0591,"color":"white"},{"offset":0.0909,"color":"white"},
      {"offset":0.0909,"color":"black"},{"offset":0.1045,"color":"black"},{"offset":0.1045,"color":"white"},{"offset":0.1364,"color":"white"},
      {"offset":0.1364,"color":"black"},{"offset":0.15,"color":"black"},{"offset":0.15,"color":"white"},{"offset":0.1818,"color":"white"},
      {"offset":0.1818,"color":"black"},{"offset":0.1955,"color":"black"},{"offset":0.1955,"color":"white"},{"offset":0.2273,"color":"white"},
      {"offset":0.2273,"color":"black"},{"offset":0.2409,"color":"black"},{"offset":0.2409,"color":"white"},{"offset":0.2727,"color":"white"},
      {"offset":0.2727,"color":"black"},{"offset":0.2864,"color":"black"},{"offset":0.2864,"color":"white"},{"offset":0.3182,"color":"white"},
      {"offset":0.3182,"color":"black"},{"offset":0.3318,"color":"black"},{"offset":0.3318,"color":"white"},{"offset":0.3636,"color":"white"},
      {"offset":0.3636,"color":"black"},{"offset":0.3773,"color":"black"},{"offset":0.3773,"color":"white"},{"offset":0.4091,"color":"white"},
      {"offset":0.4091,"color":"black"},{"offset":0.4227,"color":"black"},{"offset":0.4227,"color":"white"},{"offset":0.4545,"color":"white"},
      {"offset":0.4545,"color":"black"},{"offset":0.4682,"color":"black"},{"offset":0.4682,"color":"white"},{"offset":0.5,"color":"white"},
      {"offset":0.5,"color":"black"},{"offset":0.5136,"color":"black"},{"offset":0.5136,"color":"white"},{"offset":0.5455,"color":"white"},
      {"offset":0.5455,"color":"black"},{"offset":0.5591,"color":"black"},{"offset":0.5591,"color":"white"},{"offset":0.5909,"color":"white"},
      {"offset":0.5909,"color":"black"},{"offset":0.6045,"color":"black"},{"offset":0.6045,"color":"white"},{"offset":0.6364,"color":"white"},
      {"offset":0.6364,"color":"black"},{"offset":0.65,"color":"black"},{"offset":0.65,"color":"white"},{"offset":0.6818,"color":"white"},
      {"offset":0.6818,"color":"black"},{"offset":0.6955,"color":"black"},{"offset":0.6955,"color":"white"},{"offset":0.7273,"color":"white"},
      {"offset":0.7273,"color":"black"},{"offset":0.7409,"color":"black"},{"offset":0.7409,"color":"white"},{"offset":0.7727,"color":"white"},
      {"offset":0.7727,"color":"black"},{"offset":0.7864,"color":"black"},{"offset":0.7864,"color":"white"},{"offset":0.8182,"color":"white"},
      {"offset":0.8182,"color":"black"},{"offset":0.8318,"color":"black"},{"offset":0.8318,"color":"white"},{"offset":0.8636,"color":"white"},
      {"offset":0.8636,"color":"black"},{"offset":0.8773,"color":"black"},{"offset":0.8773,"color":"white"},{"offset":0.9091,"color":"white"},
      {"offset":0.9091,"color":"black"},{"offset":0.9227,"color":"black"},{"offset":0.9227,"color":"white"},{"offset":0.9545,"color":"white"},
      {"offset":0.9545,"color":"black"},{"offset":0.9682,"color":"black"},{"offset":0.9682,"color":"white"},{"offset":1,"color":"white"}]}},
     "encoding": {"x": {"field":"c","type":"nominal"},"xOffset": {"field":"t","type":"nominal"},"y": {"field":"v","type":"quantitative"}}},
    {"mark": {"type":"rule","strokeWidth":1.5,"color":"black"},
     "encoding": {"x": {"field":"c","type":"nominal"},"xOffset": {"field":"t","type":"nominal"},"y": {"field":"v","type":"quantitative"},"y2": {"field":"hi"}}},
    {"mark": {"type":"tick","thickness":1.5,"size":7,"color":"black"},
     "encoding": {"x": {"field":"c","type":"nominal"},"xOffset": {"field":"t","type":"nominal"},"y": {"field":"hi","type":"quantitative"}}},
    {"data": {"values": [
      {"c":"HCT-8","t":"si-NC","y":1.43,"k":"a"},{"c":"HCT-8","t":"si-MCM3AP-AS1-#1","y":1.43,"k":"a"},
      {"c":"HCT-8","t":"si-NC","y":1.61,"k":"b"},{"c":"HCT-8","t":"si-MCM3AP-AS1-#2","y":1.61,"k":"b"},
      {"c":"LoVo","t":"si-NC","y":1.43,"k":"c"},{"c":"LoVo","t":"si-MCM3AP-AS1-#1","y":1.43,"k":"c"},
      {"c":"LoVo","t":"si-NC","y":1.58,"k":"d"},{"c":"LoVo","t":"si-MCM3AP-AS1-#2","y":1.58,"k":"d"}]},
     "mark": {"type":"line","color":"black","strokeWidth":1.5},
     "encoding": {"x": {"field":"c","type":"nominal"},"xOffset": {"field":"t","type":"nominal"},"y": {"field":"y","type":"quantitative"},"detail": {"field":"k"}}},
    {"data": {"values": [{"c":"HCT-8","t":"si-NC","y":1.43,"s":"*"},{"c":"LoVo","t":"si-NC","y":1.43,"s":"**"}]},
     "mark": {"type":"text","baseline":"alphabetic","dy":4,"dx":7.6,"fontSize":12},
     "encoding": {"x": {"field":"c","type":"nominal"},"xOffset": {"field":"t","type":"nominal"},"y": {"field":"y","type":"quantitative"},"text": {"field":"s"}}},
    {"data": {"values": [{"c":"HCT-8","t":"si-MCM3AP-AS1-#1","y":1.61,"s":"**"},{"c":"LoVo","t":"si-MCM3AP-AS1-#1","y":1.58,"s":"**"}]},
     "mark": {"type":"text","baseline":"alphabetic","dy":4,"fontSize":12},
     "encoding": {"x": {"field":"c","type":"nominal"},"xOffset": {"field":"t","type":"nominal"},"y": {"field":"y","type":"quantitative"},"text": {"field":"s"}}}
   ]}
 ], "columns": 2, "spacing": 0, "bounds": "flush", "align": "each",
 "resolve": {"scale": {"fill": "independent", "color": "independent", "xOffset": "independent"}, "legend": {"fill": "independent", "color": "independent"}}},
 {"concat": [
  {"width": 588, "height": 498, "mark": "point", "data": {"values": []}},
  {"width": 1, "height": 1, "mark": "point", "data": {"values": []}},
  {"width": 1, "height": 1, "mark": "point", "data": {"values": []}},
  {"width": 100, "height": 110,
   "title": {"text": "(I)", "anchor": "start", "frame": "bounds", "fontSize": 12.5, "offset": -2.5},
   "data": {"values": [
    {"c":"HCT-8","t":"NC","v":1.0,"hi":1.06},{"c":"HCT-8","t":"miR-193a-5p","v":0.78,"hi":0.86},
    {"c":"LoVo","t":"NC","v":1.0,"hi":1.11},{"c":"LoVo","t":"miR-193a-5p","v":0.76,"hi":0.81}]},
   "layer": [
    {"mark": {"type":"bar","stroke":"black","strokeWidth":2},
     "encoding": {
      "x": {"field":"c","type":"nominal","scale":{"domain":["HCT-8","LoVo"],"paddingInner":0.37,"paddingOuter":0.25},"axis":{"title":null,"labelAngle":0,"labelFontSize":12}},
      "xOffset": {"field":"t","type":"nominal","scale":{"domain":["NC","miR-193a-5p"],"paddingInner":0.1}},
      "y": {"field":"v","type":"quantitative","scale":{"domain":[0,1.5]},"axis":{"values":[0,0.5,1,1.5],"format":".1f","title":["Relative expression of","MCM3AP-AS1"]}},
      "fill": {"field":"t","type":"nominal","scale":{"domain":["NC","miR-193a-5p"],"range":["white","#666666"]},
       "legend":{"title":null,"orient":"none","legendX":10,"legendY":-15,"symbolType":"M-2,-0.7H2V0.7H-2Z","symbolSize":100,"symbolStrokeColor":"black","symbolStrokeWidth":2,"labelFontSize":11,"labelFontWeight":"bold","labelOffset":10,"rowPadding":-6,"padding":0}}}},
    {"mark": {"type":"rule","strokeWidth":1.5,"color":"black"},
     "encoding": {"x": {"field":"c","type":"nominal"},"xOffset": {"field":"t","type":"nominal"},"y": {"field":"v","type":"quantitative"},"y2": {"field":"hi"}}},
    {"mark": {"type":"tick","thickness":1.5,"size":8,"color":"black"},
     "encoding": {"x": {"field":"c","type":"nominal"},"xOffset": {"field":"t","type":"nominal"},"y": {"field":"hi","type":"quantitative"}}},
    {"data": {"values": [{"c":"HCT-8","t":"NC","y":1.09,"k":"a"},{"c":"HCT-8","t":"miR-193a-5p","y":1.09,"k":"a"},{"c":"LoVo","t":"NC","y":1.14,"k":"b"},{"c":"LoVo","t":"miR-193a-5p","y":1.14,"k":"b"}]},
     "mark": {"type":"line","color":"black","strokeWidth":1.5},
     "encoding": {"x": {"field":"c","type":"nominal"},"xOffset": {"field":"t","type":"nominal"},"y": {"field":"y","type":"quantitative"},"detail": {"field":"k"}}},
    {"data": {"values": [{"c":"HCT-8","y":1.09,"s":"**"},{"c":"LoVo","y":1.14,"s":"*"}]},
     "mark": {"type":"text","baseline":"alphabetic","dy":4,"fontSize":12},
     "encoding": {"x": {"field":"c","type":"nominal"},"y": {"field":"y","type":"quantitative"},"text": {"field":"s"}}}
   ]}
 ], "columns": 2, "spacing": 0, "bounds": "flush", "align": "each",
 "resolve": {"scale": {"fill": "independent", "color": "independent", "xOffset": "independent"}, "legend": {"fill": "independent", "color": "independent"}}}
]
}
